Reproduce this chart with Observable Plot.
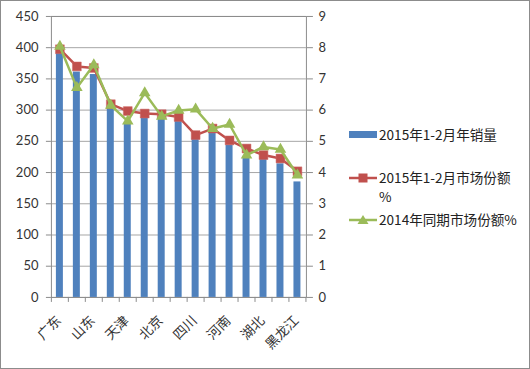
<!DOCTYPE html>
<html><head><meta charset="utf-8">
<script src="https://cdn.jsdelivr.net/npm/d3@7"></script>
<script src="https://cdn.jsdelivr.net/npm/@observablehq/plot@0.6"></script>
<style>
body{margin:0;background:#fff;}
#wrap{position:relative;width:530px;height:369px;box-sizing:border-box;border:1px solid #8c8c8c;overflow:hidden;background:#fff}
#chart{position:absolute;left:-1px;top:-1px}
#legend{position:absolute;left:347px;top:124px;font-family:"Noto Sans CJK SC",Lato,sans-serif;font-size:13.6px;color:#222;line-height:19px}
.item{position:absolute;left:0;white-space:nowrap}
.item svg{position:absolute;left:0;top:0}
.item span{position:absolute;left:31px;top:0}
</style></head><body>
<div id="wrap"><div id="chart"></div><div id="legend"></div></div>
<script>
const provinces = ["广东","江苏","山东","浙江","天津","河北","北京","上海","四川","辽宁","河南","福建","湖北","安徽","黑龙江"];
const labeled = ["广东","山东","天津","北京","四川","河南","湖北","黑龙江"];
const sales = [393, 361, 357, 305, 279, 289, 288, 284, 254, 265, 244, 225, 222, 214, 185];
const share2015 = [7.95, 7.40, 7.35, 6.19, 5.97, 5.89, 5.87, 5.78, 5.20, 5.41, 5.03, 4.77, 4.56, 4.45, 4.04];
const share2014 = [8.04, 6.72, 7.45, 6.15, 5.65, 6.55, 5.80, 5.99, 6.03, 5.41, 5.54, 4.56, 4.82, 4.74, 3.92];
const leftTicks = [0,50,100,150,200,250,300,350,400,450];
const rightTicks = [0,1,2,3,4,5,6,7,8,9];
const seriesNames = ["2015年1-2月年销量","2015年1-2月市场份额\n%","2014年同期市场份额%"];
const colors = ["#4F81BD","#C0504D","#9BBB59"];

const k = leftTicks[leftTicks.length-1] / rightTicks[rightTicks.length-1];
const data = provinces.map((p,i)=>({p, sales:sales[i], s15:share2015[i]*k, s14:share2014[i]*k}));
const step = (306.5-51)/provinces.length;

const chart = Plot.plot({
  width:530, height:369,
  marginLeft:51, marginRight:223.5, marginTop:16, marginBottom:71.5,
  style:{fontFamily:"Lato, 'Open Sans', sans-serif", fontSize:"13px", color:"#333", background:"transparent", overflow:"visible"},
  x:{domain:provinces, paddingInner:0.58, paddingOuter:0.29, label:null},
  y:{domain:[0,450], label:null},
  marks:[
    Plot.gridY(leftTicks,{stroke:"#a6a6a6", strokeOpacity:1}),
    Plot.frame({stroke:"#8c8c8c"}),
    Plot.barY(data,{x:"p", y:"sales", fill:colors[0]}),
    Plot.ruleX(provinces,{x:d=>d, y1:0, y2:-8, dx:-step/2, stroke:"#8c8c8c"}),
    Plot.ruleX(provinces.slice(-1),{x:d=>d, y1:0, y2:-8, dx:step/2, stroke:"#8c8c8c"}),
    Plot.axisY({anchor:"left", ticks:leftTicks, tickSize:5, tickPadding:8, stroke:"#8c8c8c", label:null, fill:"#333"}),
    Plot.axisY({anchor:"right", ticks:leftTicks, tickFormat:d=>d/k, tickSize:6, tickPadding:6, stroke:"#8c8c8c", label:null, fill:"#333"}),
    Plot.axisX({ticks:labeled, tickSize:0, tickRotate:-45, tickPadding:8, dy:13, dx:-1, label:null, fontFamily:"'Noto Sans CJK SC', sans-serif", fontSize:13.5, fill:"#333"}),
    Plot.line(data,{x:"p", y:"s15", stroke:colors[1], strokeWidth:2.5}),
    Plot.dot(data,{x:"p", y:"s15", symbol:"square", r:5, fill:colors[1], stroke:"#d06a67", strokeWidth:0.5}),
    Plot.line(data,{x:"p", y:"s14", stroke:colors[2], strokeWidth:2.5}),
    Plot.dot(data,{x:"p", y:"s14", symbol:"triangle", r:4.3, fill:colors[2]})
  ]
});
document.getElementById("chart").appendChild(chart);

// legend
const lg = document.getElementById("legend");
const tops = [0, 43, 85];
seriesNames.forEach((name,i)=>{
  const it = document.createElement("div");
  it.className = "item";
  it.style.top = tops[i]+"px";
  let sym;
  if(i===0) sym = `<rect x="1" y="6" width="28" height="7" fill="${colors[0]}"/>`;
  else if(i===1) sym = `<line x1="1" x2="29" y1="10" y2="10" stroke="${colors[1]}" stroke-width="2.5"/><rect x="10.5" y="5.5" width="9" height="9" fill="${colors[1]}"/>`;
  else sym = `<line x1="1" x2="29" y1="10" y2="10" stroke="${colors[2]}" stroke-width="2.5"/><path d="M15,5 L20.5,14 L9.5,14 Z" fill="${colors[2]}"/>`;
  it.innerHTML = `<svg width="30" height="20">${sym}</svg><span>${name.replace("\n","<br>")}</span>`;
  lg.appendChild(it);
});
</script>
</body></html>
